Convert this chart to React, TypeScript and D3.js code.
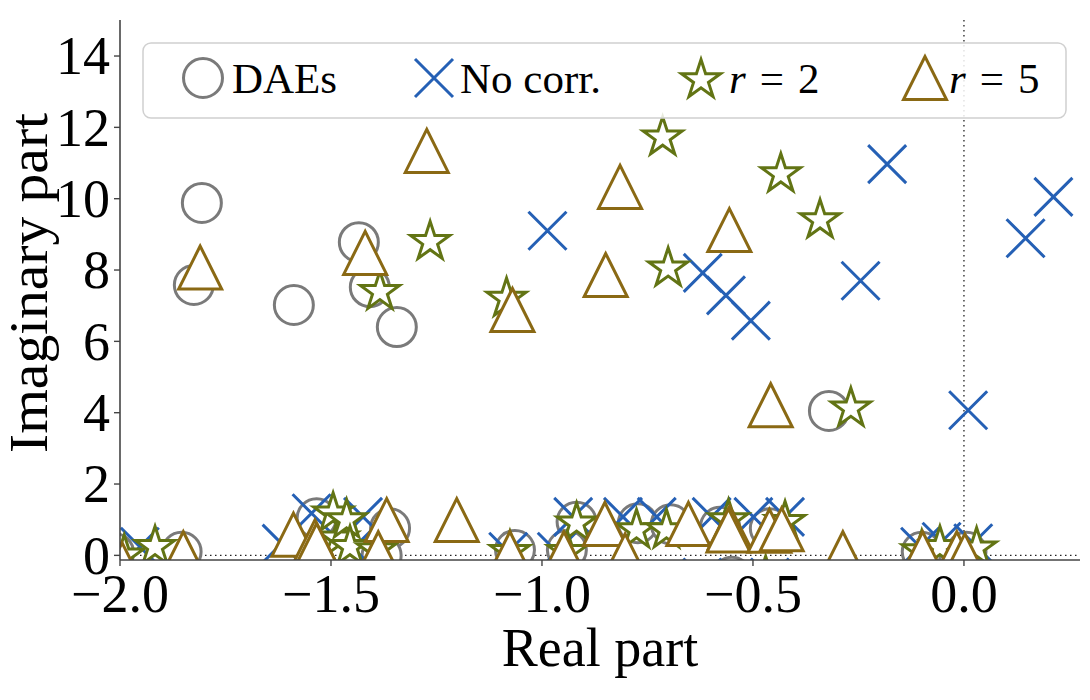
import React from "react";
import * as d3 from "d3";

const daeRe = [-1.806, -1.825, -1.588, -1.434, -1.408, -1.344, -0.32, -2.014, -1.854, -1.534, -1.36, -1.38, -1.064, -0.918, -0.941, -0.773, -0.695, -0.578, -0.46, -0.55, -0.1, 0.006];
const daeIm = [9.88, 7.58, 7.02, 8.78, 7.52, 6.4, 4.05, 0.07, 0.1, 1.04, 0.76, 0.0, 0.15, 0.94, 0.15, 0.9, 0.87, 0.8, 0.76, -0.6, 0.1, 0.1];

const noCorrRe = [-0.987, -0.619, -0.564, -0.505, -0.182, -0.245, 0.01, 0.212, 0.146, -1.953, -1.546, -1.617, -1.424, -1.447, -1.08, -0.926, -0.965, -0.808, -0.728, -0.598, -0.499, -0.424, -0.62, -0.46, -0.104, -0.053, 0.022];
const noCorrIm = [9.1, 7.92, 7.29, 6.58, 10.97, 7.7, 4.07, 10.05, 8.89, 0.24, 1.18, 0.33, 1.08, 0.2, 0.1, 1.08, 0.1, 1.08, 1.08, 1.08, 1.08, 1.08, -0.62, -0.62, 0.24, 0.38, 0.34];

const r2Re = [-0.714, -0.434, -1.265, -0.701, -1.084, -0.341, -0.268, -1.384, -1.99, -1.917, -1.495, -1.483, -1.463, -1.455, -1.392, -1.076, -0.918, -0.94, -0.776, -0.705, -0.558, -0.424, -0.47, -0.1, -0.057, 0.03];
const r2Im = [11.72, 10.69, 8.79, 8.05, 7.2, 9.4, 4.12, 7.39, 0.0, 0.24, 1.18, 0.48, 0.99, 0.24, 0.15, 0.1, 0.9, 0.1, 0.71, 0.71, 0.99, 0.94, -0.6, 0.12, 0.24, 0.2];

const r5Re = [-1.273, -1.81, -1.419, -0.815, -0.556, -0.849, -1.07, -0.458, -1.995, -1.85, -1.589, -1.538, -1.534, -1.368, -1.388, -1.202, -1.076, -0.948, -0.851, -0.803, -0.653, -0.555, -0.558, -0.461, -0.432, -0.287, -0.098, -0.017, 0.002];
const r5Im = [11.34, 8.07, 8.48, 10.33, 9.12, 7.86, 6.88, 4.21, -0.25, 0.06, 0.58, 0.39, 0.29, 0.99, 0.06, 0.99, 0.06, 0.06, 0.88, 0.0, 0.88, 0.78, 0.7, 0.69, 0.73, 0.06, 0.06, 0.06, 0.0];

const xTicks = [-2.0, -1.5, -1.0, -0.5, 0.0];
const xTickLabels = ["\u22122.0", "\u22121.5", "\u22121.0", "\u22120.5", "0.0"];
const yTicks = [0, 2, 4, 6, 8, 10, 12, 14];
const yTickLabels = ["0", "2", "4", "6", "8", "10", "12", "14"];

const C_DAE = "#7a7a7a";
const C_NC = "#2560b5";
const C_R2 = "#627414";
const C_R5 = "#8a6914";
const FONT = "'Liberation Serif', 'Times New Roman', serif";

function starPath(R: number) {
  const r = R * 0.382;
  const pts: string[] = [];
  for (let i = 0; i < 10; i++) {
    const a = -Math.PI / 2 + (i * Math.PI) / 5;
    const rad = i % 2 === 0 ? R : r;
    pts.push(`${(rad * Math.cos(a)).toFixed(2)},${(rad * Math.sin(a)).toFixed(2)}`);
  }
  return "M" + pts.join("L") + "Z";
}
const triPath = (h: number) => `M0,${-h}L${-h},${h}L${h},${h}Z`;
const xPath = (h: number) => `M${-h},${-h}L${h},${h}M${-h},${h}L${h},${-h}`;

const CircleM = ({ cx, cy }: { cx: number; cy: number }) => (
  <circle cx={cx} cy={cy} r={19.5} fill="white" stroke={C_DAE} strokeWidth={3} />
);
const XM = ({ cx, cy }: { cx: number; cy: number }) => (
  <path d={xPath(19)} transform={`translate(${cx},${cy})`} fill="none" stroke={C_NC} strokeWidth={3} />
);
const StarM = ({ cx, cy }: { cx: number; cy: number }) => (
  <path d={starPath(20.5)} transform={`translate(${cx},${cy})`} fill="white" stroke={C_R2} strokeWidth={3} strokeLinejoin="miter" />
);
const TriM = ({ cx, cy }: { cx: number; cy: number }) => (
  <path d={triPath(21.5)} transform={`translate(${cx},${cy})`} fill="white" stroke={C_R5} strokeWidth={3} strokeLinejoin="miter" />
);

export default function App() {
  const left = 120, right = 1080, top = 20, bottom = 560;
  const x = d3.scaleLinear().domain([-2.0, 0.275]).range([left, right]);
  const y = d3.scaleLinear().domain([-0.13, 15.01]).range([bottom, top]);

  return (
    <svg width={1090} height={700} style={{ position: "absolute", left: 0, top: 0, background: "white" }} fontFamily={FONT}>
      <defs>
        <clipPath id="plotclip">
          <rect x={left} y={top} width={right - left} height={bottom - top} />
        </clipPath>
      </defs>
      <rect x={0} y={0} width={1090} height={700} fill="white" />
      <line x1={left} x2={right} y1={y(0)} y2={y(0)} stroke="#222" strokeWidth={1.3} strokeDasharray="1.5,3.5" />
      <line x1={x(0)} x2={x(0)} y1={top} y2={bottom} stroke="#222" strokeWidth={1.3} strokeDasharray="1.5,3.5" />
      <g clipPath="url(#plotclip)">
        {daeRe.map((v, i) => <CircleM key={"c" + i} cx={x(v)} cy={y(daeIm[i])} />)}
        {noCorrRe.map((v, i) => <XM key={"x" + i} cx={x(v)} cy={y(noCorrIm[i])} />)}
        {r2Re.map((v, i) => <StarM key={"s" + i} cx={x(v)} cy={y(r2Im[i])} />)}
        {r5Re.map((v, i) => <TriM key={"t" + i} cx={x(v)} cy={y(r5Im[i])} />)}
      </g>
      <line x1={left} x2={left} y1={top} y2={bottom} stroke="#444" strokeWidth={1.6} />
      <line x1={left} x2={right} y1={bottom} y2={bottom} stroke="#444" strokeWidth={1.6} />
      {xTicks.map((t, i) => (
        <g key={"xt" + i}>
          <line x1={x(t)} x2={x(t)} y1={bottom} y2={bottom + 6} stroke="#444" strokeWidth={1.4} />
          <text x={x(t)} y={612} fontSize={54} textAnchor="middle" fill="#000">{xTickLabels[i]}</text>
        </g>
      ))}
      {yTicks.map((t, i) => (
        <g key={"yt" + i}>
          <line x1={left - 6} x2={left} y1={y(t)} y2={y(t)} stroke="#444" strokeWidth={1.4} />
          <text x={110} y={y(t)} dy="0.34em" fontSize={54} textAnchor="end" fill="#000">{yTickLabels[i]}</text>
        </g>
      ))}
      <text x={(left + right) / 2} y={666} fontSize={54} textAnchor="middle" fill="#000">Real part</text>
      <text transform={`translate(47,283) rotate(-90)`} fontSize={54} textAnchor="middle" textLength={340} lengthAdjust="spacingAndGlyphs" fill="#000">Imaginary part</text>
      <rect x={143} y={43} width={923} height={75} rx={8} fill="white" fillOpacity={0.85} stroke="#d0d0d0" strokeWidth={1.5} />
      <CircleM cx={203} cy={78} />
      <text x={232} y={93} fontSize={43} fill="#000">DAEs</text>
      <XM cx={434} cy={78} />
      <text x={460} y={93} fontSize={43} fill="#000">No corr.</text>
      <StarM cx={701} cy={80} />
      <text x={729} y={93} fontSize={43} fill="#000"><tspan fontStyle="italic">r</tspan><tspan dx={14}>=</tspan><tspan dx={14}>2</tspan></text>
      <TriM cx={925} cy={78} />
      <text x={949} y={93} fontSize={43} fill="#000"><tspan fontStyle="italic">r</tspan><tspan dx={14}>=</tspan><tspan dx={14}>5</tspan></text>
    </svg>
  );
}
